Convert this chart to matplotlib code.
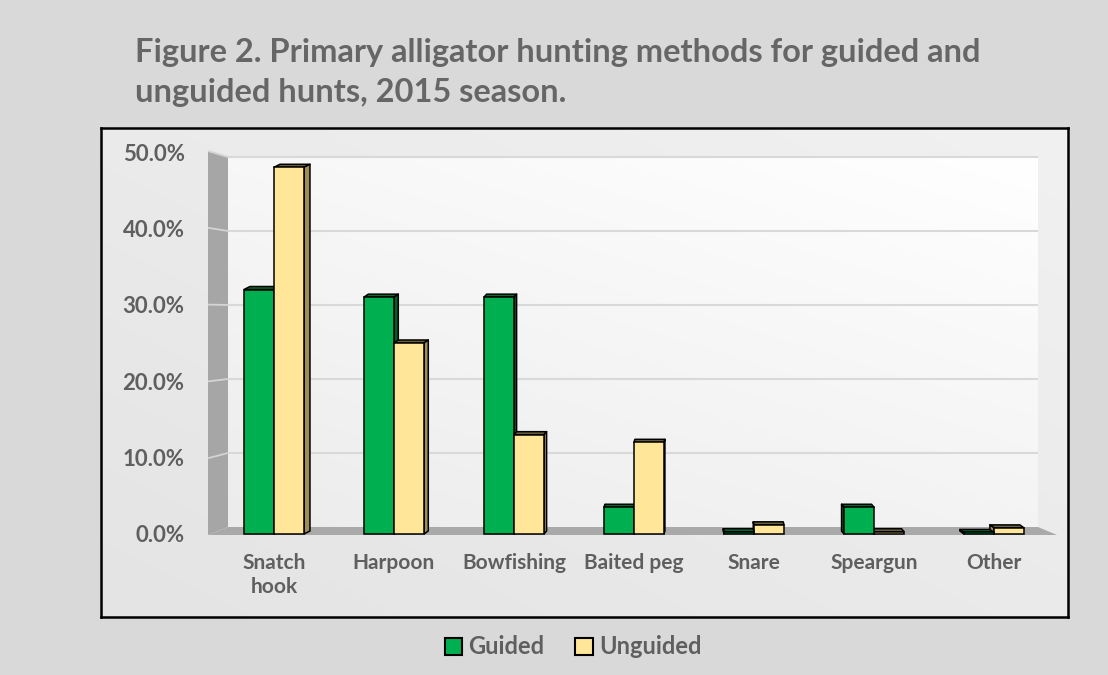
import matplotlib
matplotlib.use("Agg")
import matplotlib.pyplot as plt
import numpy as np
from matplotlib.patches import Polygon, Rectangle, Patch

categories = ["Snatch\nhook", "Harpoon", "Bowfishing", "Baited peg", "Snare", "Speargun", "Other"]
guided = [32.0, 31.0, 31.0, 3.5, 0.3, 3.5, 0.2]
unguided = [48.0, 25.0, 13.0, 12.0, 1.2, 0.3, 0.8]
yticks = [0, 10, 20, 30, 40, 50]
ytick_labels = ["0.0%", "10.0%", "20.0%", "30.0%", "40.0%", "50.0%"]
series_names = ["Guided", "Unguided"]

W, H = 1108, 675
DPI = 100
TXT = "#5f5f5f"
FONT = ["Lato", "DejaVu Sans"]

GREEN = "#00b050"; GREEN_SIDE = "#005f28"; GREEN_TOP = "#0a6a30"
YEL = "#ffe699"; YEL_SIDE = "#9e8c5a"; YEL_TOP = "#6d6240"

fig = plt.figure(figsize=(W / DPI, H / DPI), dpi=DPI)
fig.patch.set_facecolor("#d9d9d9")

def fx(px):
    return px / W

def fy(py):
    return 1 - py / H

# chart box with subtle gradient
bx0, by0, bx1, by1 = 101, 128, 1068, 617
box_ax = fig.add_axes([fx(bx0), fy(by1), fx(bx1 - bx0), (by1 - by0) / H])
g = np.linspace(0, 1, 256)
grad = np.add.outer(g[::-1] * 0.5, g * 0.5)
box_ax.imshow(grad, cmap=matplotlib.colors.LinearSegmentedColormap.from_list("b", ["#e4e4e4", "#f1f1f1"]),
              aspect="auto", extent=[0, 1, 0, 1], origin="upper")
box_ax.set_xlim(0, 1); box_ax.set_ylim(0, 1)
box_ax.set_xticks([]); box_ax.set_yticks([])
for s in box_ax.spines.values():
    s.set_linewidth(1.8); s.set_color("black")

# main plot axes (pixel mapping: x = (px-274)/120, y = (534-py)/7.64)
PXX, X0 = 120.0, 274.0
PXY, Y0 = 7.64, 534.0
ax_l, ax_r, ax_t, ax_b = 195, 1065, 140, 545
ax = fig.add_axes([fx(ax_l), fy(ax_b), fx(ax_r - ax_l), (ax_b - ax_t) / H])
ax.set_xlim((ax_l - X0) / PXX, (ax_r - X0) / PXX)
ax.set_ylim((Y0 - ax_b) / PXY, (Y0 - ax_t) / PXY)
ax.patch.set_alpha(0)
for s in ax.spines.values():
    s.set_visible(False)

def dxp(px):
    return (px - X0) / PXX

def dyp(py):
    return (Y0 - py) / PXY

# back wall geometry
wall_l, wall_r = 228, 1038
back_bot, back_top = 527, 157
front_l = 208
back_scale = (back_bot - back_top) / 50.0
front_top = 151

# back wall gradient
ax.imshow(np.add.outer(np.linspace(0.6, 0, 128), np.linspace(0, 0.4, 128)),
          cmap=matplotlib.colors.LinearSegmentedColormap.from_list("w", ["#ececec", "#ffffff"]),
          aspect="auto", origin="upper", vmin=0, vmax=1,
          extent=[dxp(wall_l), dxp(wall_r), dyp(back_bot), dyp(back_top)], zorder=0)

# left side wall
ax.add_patch(Polygon([(dxp(front_l), dyp(Y0 + 1)), (dxp(front_l), dyp(front_top)),
                      (dxp(wall_l), dyp(back_top)), (dxp(wall_l), dyp(back_bot))],
                     closed=True, facecolor="#a6a6a6", edgecolor="none", zorder=1))
# floor
ax.add_patch(Polygon([(dxp(front_l), dyp(Y0 + 1)), (dxp(wall_l), dyp(back_bot)),
                      (dxp(wall_r), dyp(back_bot)), (dxp(1057), dyp(Y0 + 1))],
                     closed=True, facecolor="#a9a9a9", edgecolor="none", zorder=1))

# gridlines on back wall and side wall
front_scale = (Y0 + 1 - front_top) / 50.0
for v in yticks[1:]:
    yb = back_bot - v * back_scale
    yf = Y0 + 1 - v * front_scale
    ax.plot([dxp(wall_l), dxp(wall_r)], [dyp(yb), dyp(yb)], color="#d9d9d9", lw=1.5, zorder=2,
            solid_capstyle="butt")
    ax.plot([dxp(front_l), dxp(wall_l)], [dyp(yf), dyp(yb)], color="#d4d4d4", lw=1.3, zorder=2,
            solid_capstyle="butt")

# bars with pseudo-3D faces
bw = 0.25
x = np.arange(len(categories))
xv = (700 - X0) / PXX
DY = 3.0 / PXY

def draw_bar(xl, h, front, side, top, dx, z):
    xr = xl + bw
    ax.add_patch(Polygon([(xl, h), (xr, h), (xr + dx, h + DY), (xl + dx, h + DY)], closed=True,
                         facecolor=top, edgecolor="black", lw=1.1, zorder=z, joinstyle="round"))
    if dx > 0:
        pts = [(xr, 0), (xr, h), (xr + dx, h + DY), (xr + dx, DY)]
    else:
        pts = [(xl, 0), (xl, h), (xl + dx, h + DY), (xl + dx, DY)]
    if abs(dx) > 0.004:
        ax.add_patch(Polygon(pts, closed=True, facecolor=side, edgecolor="black", lw=1.1,
                             zorder=z, joinstyle="round"))
    ax.bar(xl, h, width=bw, align="edge", color=front, edgecolor="black", lw=1.1, zorder=z + 0.5)

for i in range(len(categories)):
    dx = (xv - x[i]) * (1.68 / PXX)
    if dx >= 0:
        draw_bar(x[i] - bw, guided[i], GREEN, GREEN_SIDE, GREEN_TOP, dx, 3)
        draw_bar(x[i], unguided[i], YEL, YEL_SIDE, YEL_TOP, dx, 4)
    else:
        draw_bar(x[i], unguided[i], YEL, YEL_SIDE, YEL_TOP, dx, 3)
        draw_bar(x[i] - bw, guided[i], GREEN, GREEN_SIDE, GREEN_TOP, dx, 4)

ax.set_yticks(yticks)
ax.set_yticklabels(ytick_labels)
ax.set_xticks(x)
ax.set_xticklabels(categories, linespacing=1.2)
ax.tick_params(axis="both", length=0)
ax.tick_params(axis="y", pad=7.5)
ax.tick_params(axis="x", pad=6)
for lab in ax.get_yticklabels():
    lab.set_fontfamily(FONT); lab.set_fontsize(16); lab.set_fontweight("bold"); lab.set_color(TXT)
for lab in ax.get_xticklabels():
    lab.set_fontfamily(FONT); lab.set_fontsize(15); lab.set_fontweight("bold"); lab.set_color(TXT)

# title
fig.text(fx(135), fy(62), "Figure 2. Primary alligator hunting methods for guided and",
         fontsize=23.5, fontweight="bold", color="#666666", family=FONT, va="baseline", ha="left")
fig.text(fx(135), fy(102), "unguided hunts, 2015 season.",
         fontsize=23.5, fontweight="bold", color="#666666", family=FONT, va="baseline", ha="left")

# legend
handles = [Patch(facecolor=GREEN, edgecolor="black", lw=1.5),
           Patch(facecolor=YEL, edgecolor="black", lw=1.5)]
leg = fig.legend(handles, series_names, loc="center", bbox_to_anchor=(fx(573), fy(647)), ncol=2,
                 frameon=False, handlelength=0.75, handleheight=0.75, handletextpad=0.25,
                 columnspacing=1.3, prop={"family": FONT, "size": 17, "weight": "bold"})
for t in leg.get_texts():
    t.set_color(TXT)

fig.savefig("out.png", dpi=DPI, facecolor=fig.get_facecolor())
